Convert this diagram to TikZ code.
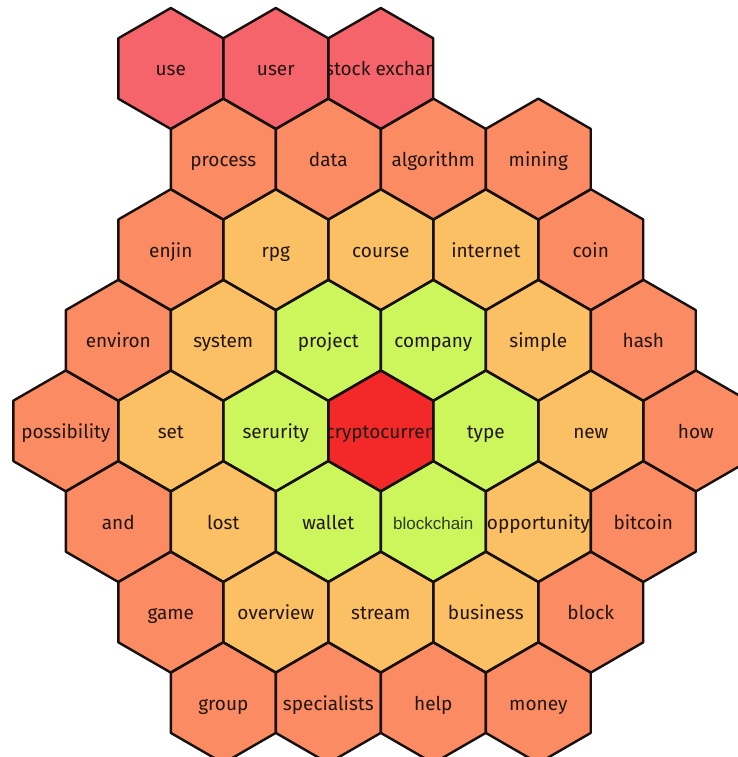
\documentclass[tikz,border=0pt]{standalone}
\usepackage{fontspec}
\setmainfont{Fira Sans}
\newfontfamily\bcfont{Liberation Sans}
\definecolor{cTop}{HTML}{F4646A}
\definecolor{cOr}{HTML}{FA8B62}
\definecolor{cLt}{HTML}{FBBF64}
\definecolor{cGr}{HTML}{CCF65C}
\definecolor{cCen}{HTML}{F32828}
\definecolor{txtc}{HTML}{221614}
\definecolor{txtb}{HTML}{2E3A28}
\definecolor{edgec}{HTML}{161010}
\tikzset{
  hexline/.style={draw=edgec, line width=2.4pt, line join=round},
  lbl/.style={text=txtc, font=\fontsize{19}{22}\selectfont, inner sep=0pt, anchor=base},
  lblb/.style={text=txtb, font=\bcfont\fontsize{17}{20}\selectfont, inner sep=0pt, anchor=base},
}
\newcommand\hexat[2]{(#1,#2) ++(0,-60.5) -- ++(52.4,30.25) -- ++(0,60.5) -- ++(-52.4,30.25) -- ++(-52.4,-30.25) -- ++(0,-60.5) -- cycle}
\def\cells{use/0/3/cTop/use/lbl, user/0/5/cTop/user/lbl, stock/0/7/cTop/stock exchan/lbl,
 process/1/4/cOr/process/lbl, data/1/6/cOr/data/lbl, algorithm/1/8/cOr/algorithm/lbl, mining/1/10/cOr/mining/lbl,
 enjin/2/3/cOr/enjin/lbl, rpg/2/5/cLt/rpg/lbl, course/2/7/cLt/course/lbl, internet/2/9/cLt/internet/lbl, coin/2/11/cOr/coin/lbl,
 environ/3/2/cOr/environ/lbl, system/3/4/cLt/system/lbl, project/3/6/cGr/project/lbl, company/3/8/cGr/company/lbl, simple/3/10/cLt/simple/lbl, hash/3/12/cOr/hash/lbl,
 possibility/4/1/cOr/possibility/lbl, set/4/3/cLt/set/lbl, serurity/4/5/cGr/serurity/lbl, crypto/4/7/cCen/cryptocurren/lbl, type/4/9/cGr/type/lbl, new/4/11/cLt/new/lbl, how/4/13/cOr/how/lbl,
 and/5/2/cOr/and/lbl, lost/5/4/cLt/lost/lbl, wallet/5/6/cGr/wallet/lbl, blockchain/5/8/cGr/blockchain/lblb, opportunity/5/10/cLt/opportunity/lbl, bitcoin/5/12/cOr/bitcoin/lbl,
 game/6/3/cOr/game/lbl, overview/6/5/cLt/overview/lbl, stream/6/7/cLt/stream/lbl, business/6/9/cLt/business/lbl, block/6/11/cOr/block/lbl,
 group/7/4/cOr/group/lbl, specialists/7/6/cOr/specialists/lbl, help/7/8/cOr/help/lbl, money/7/10/cOr/money/lbl}
\begin{document}
\begin{tikzpicture}[x=1pt,y=-1pt]
\fill[white] (0,0) rectangle (738,757);
\useasboundingbox (0,0) rectangle (738,757);
\foreach \nm/\r/\k/\col/\t/\st in \cells {
  \pgfmathsetmacro\hx{13.3+52.5*\k}
  \pgfmathsetmacro\hy{68.5+90.6*\r}
  \begin{scope}
    \clip \hexat{\hx}{\hy};
    \fill[\col] \hexat{\hx}{\hy};
    \node[\st] (h-\nm) at (\hx,\hy+7.5) {\t};
  \end{scope}
}
\foreach \nm/\r/\k/\col/\t/\st in \cells {
  \pgfmathsetmacro\hx{13.3+52.5*\k}
  \pgfmathsetmacro\hy{68.5+90.6*\r}
  \draw[hexline] \hexat{\hx}{\hy};
}
\end{tikzpicture}
\end{document}
